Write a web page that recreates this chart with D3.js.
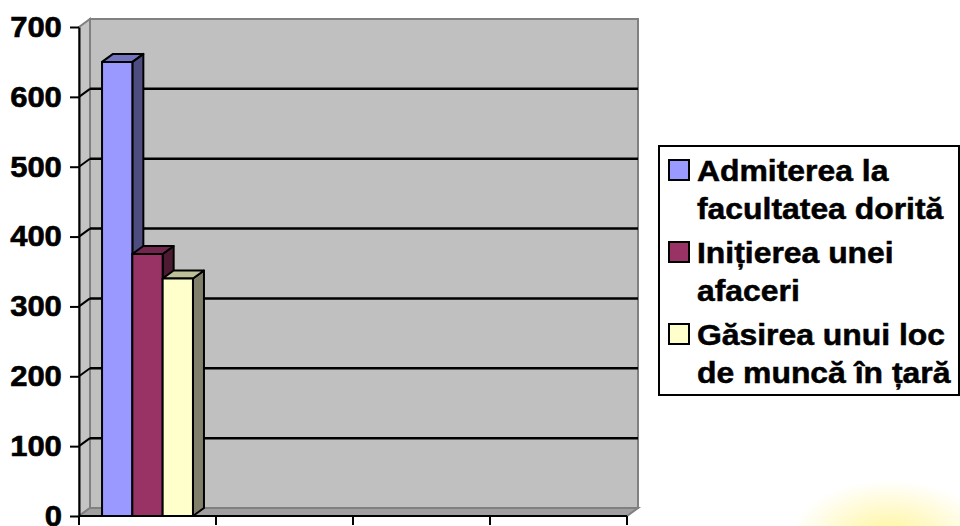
<!DOCTYPE html>
<html>
<head>
<meta charset="utf-8">
<script src="https://cdn.jsdelivr.net/npm/d3@7"></script>
<style>
  body { margin: 0; background: #fff; }
  svg { display: block; font-family: "Liberation Sans", Arial, sans-serif; }
</style>
</head>
<body>
<svg id="chart" width="960" height="526"></svg>
<script>
// data
const categories = ["c1", "c2", "c3", "c4"];
const seriesNames = ["Admiterea la facultatea dorită", "Inițierea unei afaceri", "Găsirea unui loc de muncă în țară"];
const admitere = [650, null, null, null];
const initiere = [375, null, null, null];
const gasire = [340, null, null, null];
const yTicks = [0, 100, 200, 300, 400, 500, 600, 700];
const legendLines = [["Admiterea la", "facultatea dorită"], ["Inițierea unei", "afaceri"], ["Găsirea unui loc", "de muncă în țară"]];

const front = ["#9999ff", "#993366", "#ffffcc"];
const top_ = ["#7373bf", "#73264d", "#bfbf99"];
const side = ["#4d4d80", "#4d1a33", "#80806a"];

const svg = d3.select("#chart");
const dx = 11, dy = 8;

const y = d3.scaleLinear().domain([0, 700]).range([516, 27]);
const x = d3.scaleBand().domain(categories).range([79, 627]);
const x1 = d3.scaleBand().domain(seriesNames).range([0, x.bandwidth()]).paddingOuter(0.76);

// soft background glow bottom right
const defs = svg.append("defs");
const grad = defs.append("radialGradient").attr("id", "glow");
grad.append("stop").attr("offset", "0%").attr("stop-color", "#fff38a").attr("stop-opacity", 0.9);
grad.append("stop").attr("offset", "100%").attr("stop-color", "#fff38a").attr("stop-opacity", 0);
svg.append("ellipse").attr("cx", 890).attr("cy", 540).attr("rx", 100).attr("ry", 60).attr("fill", "url(#glow)");

const x0 = x.range()[0], xEnd = x.range()[1];
const y0 = y(0), yTop = y(700);

// walls
svg.append("polygon")
  .attr("points", [[x0 + dx, yTop - dy], [xEnd + dx, yTop - dy], [xEnd + dx, y0 - dy], [x0 + dx, y0 - dy]].join(" "))
  .attr("fill", "#c0c0c0").attr("stroke", "#808080").attr("stroke-width", 2);
svg.append("polygon")
  .attr("points", [[x0, yTop], [x0 + dx, yTop - dy], [x0 + dx, y0 - dy], [x0, y0]].join(" "))
  .attr("fill", "#c4c4c4").attr("stroke", "#808080").attr("stroke-width", 2);
svg.append("polygon")
  .attr("points", [[x0, y0], [x0 + dx, y0 - dy], [xEnd + dx, y0 - dy], [xEnd, y0]].join(" "))
  .attr("fill", "#a0a0a0").attr("stroke", "#808080").attr("stroke-width", 2);

// gridlines
const grid = yTicks.filter(t => t > 0 && t < 700);
svg.append("g").selectAll("line").data(grid).join("line")
  .attr("x1", x0 + dx).attr("x2", xEnd + dx)
  .attr("y1", d => y(d) - dy).attr("y2", d => y(d) - dy)
  .attr("stroke", "#000").attr("stroke-width", 2.5);
svg.append("g").selectAll("line").data(grid).join("line")
  .attr("x1", x0).attr("x2", x0 + dx)
  .attr("y1", d => y(d)).attr("y2", d => y(d) - dy)
  .attr("stroke", "#000").attr("stroke-width", 2);

// bars
const series = [admitere, initiere, gasire];
series.forEach((vals, si) => {
  const g = svg.append("g").attr("stroke", "#000").attr("stroke-width", 2).attr("stroke-linejoin", "round");
  const data = categories.map((c, i) => ({ c, v: vals[i] })).filter(d => d.v != null);
  data.forEach(d => {
    const bx = x(d.c) + x1(seriesNames[si]);
    const bw = x1.bandwidth();
    const by = y(d.v);
    g.append("polygon")
      .attr("points", [[bx + bw, by], [bx + bw + dx, by - dy], [bx + bw + dx, y0 - dy], [bx + bw, y0]].join(" "))
      .attr("fill", side[si]);
    g.append("polygon")
      .attr("points", [[bx, by], [bx + dx, by - dy], [bx + bw + dx, by - dy], [bx + bw, by]].join(" "))
      .attr("fill", top_[si]);
    g.append("rect")
      .attr("x", bx).attr("y", by).attr("width", bw).attr("height", y0 - by)
      .attr("fill", front[si]);
  });
});

// y axis
svg.append("g")
  .attr("transform", `translate(${x0},0)`)
  .call(d3.axisLeft(y).tickValues(yTicks).tickSize(9).tickPadding(7).tickSizeOuter(0))
  .call(g => g.selectAll("line, path").attr("stroke", "#000").attr("stroke-width", 2))
  .call(g => g.selectAll("text").attr("font-size", 29).attr("font-weight", "bold")
    .attr("font-family", "'Liberation Sans', Arial, sans-serif").attr("fill", "#000")
    .attr("transform", "scale(1.07,1)").attr("stroke", "#000").attr("stroke-width", 0.6));

// x axis (ticks at category edges)
const edges = categories.map(c => x(c)).concat([xEnd]);
const xa = svg.append("g").attr("stroke", "#000").attr("stroke-width", 2);
xa.append("line").attr("x1", x0).attr("x2", xEnd).attr("y1", y0).attr("y2", y0);
xa.selectAll(".tk").data(edges).join("line").attr("class", "tk")
  .attr("x1", d => d).attr("x2", d => d).attr("y1", y0).attr("y2", y0 + 9);

// legend
const lg = svg.append("g");
lg.append("rect").attr("x", 659).attr("y", 146).attr("width", 300).attr("height", 249)
  .attr("fill", "#fff").attr("stroke", "#000").attr("stroke-width", 2);
const itemY = [160, 242, 324];
legendLines.forEach((lines, i) => {
  lg.append("rect").attr("x", 669).attr("y", itemY[i]).attr("width", 20).attr("height", 20)
    .attr("fill", front[i]).attr("stroke", "#000").attr("stroke-width", 2);
  lines.forEach((t, j) => {
    lg.append("text")
      .attr("transform", `translate(697,${itemY[i] + 21 + j * 38}) scale(1.1,1)`)
      .attr("font-size", 29).attr("font-weight", "bold").attr("fill", "#000")
      .attr("stroke", "#000").attr("stroke-width", 0.5).text(t);
  });
});
</script>
</body>
</html>
